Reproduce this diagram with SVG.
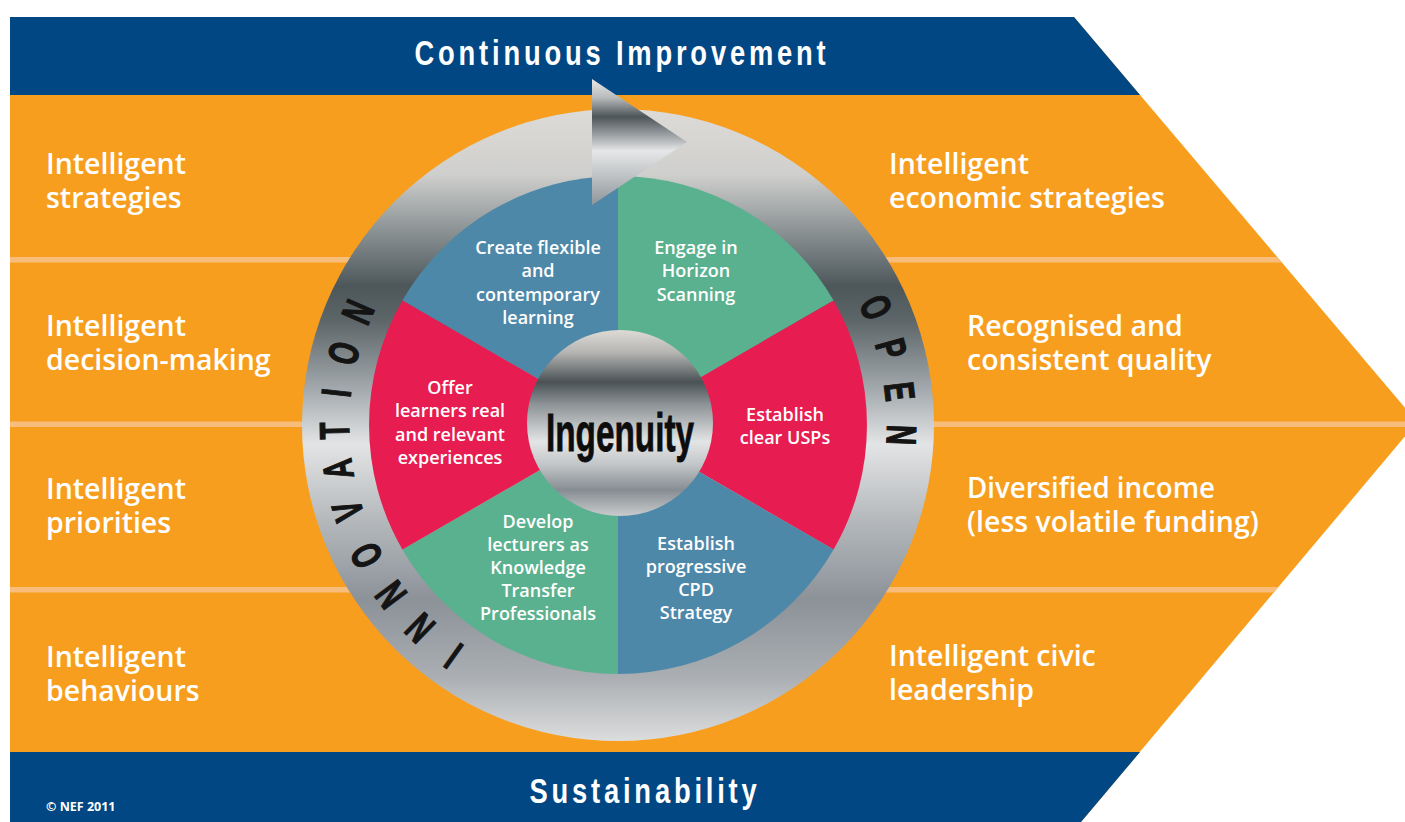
<svg xmlns="http://www.w3.org/2000/svg" width="1405" height="822" viewBox="0 0 1405 822">
  <defs>
    <style>
      .band-title { font-family: "Liberation Sans", Arial, sans-serif; font-weight: bold; font-size: 36px; fill: #ffffff; letter-spacing: 5px; }
      .side { font-family: "Open Sans", "Liberation Sans", sans-serif; font-weight: 600; font-size: 28.5px; fill: #ffffff; }
      .seg { font-family: "Open Sans", "Liberation Sans", sans-serif; font-weight: 600; font-size: 18px; fill: #ffffff; text-anchor: middle; }
      .ring-letter { font-family: "Liberation Sans", Arial, sans-serif; font-weight: bold; font-size: 42px; fill: #141414; stroke: #141414; stroke-width: 1.2px; text-anchor: middle; }
      .core { font-family: "Liberation Sans", Arial, sans-serif; font-weight: bold; font-size: 53px; fill: #0d0d0d; stroke: #0d0d0d; stroke-width: 0.8px; text-anchor: middle; }
      .copy { font-family: "Open Sans", "Liberation Sans", sans-serif; font-weight: 700; font-size: 12.5px; fill: #ffffff; }
      .stripe { fill: #f8bd7b; }
    </style>
    <clipPath id="chevronClip">
      <polygon points="10,17 1074,17 1417,422 1081,822 10,822"/>
    </clipPath>
    <!-- brushed-metal ring -->
    <linearGradient id="metalRing" gradientUnits="userSpaceOnUse" x1="0" y1="109" x2="0" y2="741">
      <stop offset="0" stop-color="#dddbd7"/>
      <stop offset="0.104" stop-color="#cfcfcd"/>
      <stop offset="0.19" stop-color="#8d9496"/>
      <stop offset="0.28" stop-color="#4d575a"/>
      <stop offset="0.334" stop-color="#5c6568"/>
      <stop offset="0.445" stop-color="#a4aaae"/>
      <stop offset="0.53" stop-color="#e3e4e5"/>
      <stop offset="0.65" stop-color="#b5b9bc"/>
      <stop offset="0.777" stop-color="#8b9298"/>
      <stop offset="0.9" stop-color="#abafb3"/>
      <stop offset="1" stop-color="#dcdddd"/>
    </linearGradient>
    <!-- metal hub -->
    <linearGradient id="metalHub" gradientUnits="userSpaceOnUse" x1="0" y1="330" x2="0" y2="516">
      <stop offset="0" stop-color="#dedbd6"/>
      <stop offset="0.12" stop-color="#b5b5b3"/>
      <stop offset="0.28" stop-color="#4a5255"/>
      <stop offset="0.4" stop-color="#8d9396"/>
      <stop offset="0.6" stop-color="#e3e4e5"/>
      <stop offset="0.72" stop-color="#c4c7c9"/>
      <stop offset="0.86" stop-color="#868d92"/>
      <stop offset="1" stop-color="#c9cbcd"/>
    </linearGradient>
    <!-- metal arrowhead -->
    <linearGradient id="metalArrow" gradientUnits="userSpaceOnUse" x1="0" y1="79" x2="0" y2="205">
      <stop offset="0" stop-color="#e8e8e8"/>
      <stop offset="0.15" stop-color="#b7b9ba"/>
      <stop offset="0.3" stop-color="#4c5558"/>
      <stop offset="0.45" stop-color="#9ea3a6"/>
      <stop offset="0.57" stop-color="#e6e7e8"/>
      <stop offset="0.75" stop-color="#c3c6c8"/>
      <stop offset="1" stop-color="#8f959a"/>
    </linearGradient>
  </defs>

  <rect width="1405" height="822" fill="#ffffff"/>

  <!-- chevron background -->
  <g id="chevron">
    <polygon points="10,17 1074,17 1417,422 1081,822 10,822" fill="#f79e1f"/>
    <g clip-path="url(#chevronClip)">
      <rect class="stripe" x="10" y="257" width="1410" height="5.5"/>
      <rect class="stripe" x="10" y="421.5" width="1410" height="5.5"/>
      <rect class="stripe" x="10" y="587" width="1410" height="5.5"/>
    </g>
  </g>

  <g id="band-top">
    <polygon points="10,17 1074,17 1140,95 10,95" fill="#004784"/>
    <text class="band-title" transform="translate(622,65) scale(0.76,1)" text-anchor="middle">Continuous Improvement</text>
  </g>

  <g id="band-bottom">
    <polygon points="10,752 1140,752 1081,822 10,822" fill="#004784"/>
    <text class="band-title" transform="translate(645,803) scale(0.76,1)" text-anchor="middle">Sustainability</text>
    <text class="copy" x="46" y="811">© NEF 2011</text>
  </g>

  <!-- left column -->
  <g id="left-strategies"><text class="side" x="46" y="174">Intelligent</text><text class="side" x="46" y="208">strategies</text></g>
  <g id="left-decision"><text class="side" x="46" y="336">Intelligent</text><text class="side" x="46" y="370">decision-making</text></g>
  <g id="left-priorities"><text class="side" x="46" y="499">Intelligent</text><text class="side" x="46" y="533">priorities</text></g>
  <g id="left-behaviours"><text class="side" x="46" y="667">Intelligent</text><text class="side" x="46" y="701">behaviours</text></g>

  <!-- right column -->
  <g id="right-economic"><text class="side" x="889" y="174">Intelligent</text><text class="side" x="889" y="208">economic strategies</text></g>
  <g id="right-quality"><text class="side" x="967" y="336">Recognised and</text><text class="side" x="967" y="370">consistent quality</text></g>
  <g id="right-income"><text class="side" x="967" y="498" textLength="248" lengthAdjust="spacingAndGlyphs">Diversified income</text><text class="side" x="967" y="532">(less volatile funding)</text></g>
  <g id="right-civic"><text class="side" x="889" y="666">Intelligent civic</text><text class="side" x="889" y="700">leadership</text></g>

  <!-- outer ring -->
  <g id="ring">
    <circle cx="618" cy="425" r="316" fill="url(#metalRing)"/>
  </g>

  <!-- six segments -->
  <g id="seg-flexible">
    <path d="M618,425 L402.4,300.5 A249,249 0 0 1 618,176 Z" fill="#4e88a9"/>
    <text class="seg" x="538" y="254">Create flexible</text>
    <text class="seg" x="538" y="277">and</text>
    <text class="seg" x="538" y="301">contemporary</text>
    <text class="seg" x="538" y="324">learning</text>
  </g>
  <g id="seg-horizon">
    <path d="M618,425 L618,176 A249,249 0 0 1 833.6,300.5 Z" fill="#5ab18f"/>
    <text class="seg" x="696" y="254">Engage in</text>
    <text class="seg" x="696" y="277">Horizon</text>
    <text class="seg" x="696" y="301">Scanning</text>
  </g>
  <g id="seg-usps">
    <path d="M618,425 L833.6,300.5 A249,249 0 0 1 833.6,549.5 Z" fill="#e71d51"/>
    <text class="seg" x="785" y="421">Establish</text>
    <text class="seg" x="785" y="444">clear USPs</text>
  </g>
  <g id="seg-cpd">
    <path d="M618,425 L833.6,549.5 A249,249 0 0 1 618,674 Z" fill="#4e88a9"/>
    <text class="seg" x="696" y="550">Establish</text>
    <text class="seg" x="696" y="573">progressive</text>
    <text class="seg" x="696" y="596">CPD</text>
    <text class="seg" x="696" y="619">Strategy</text>
  </g>
  <g id="seg-lecturers">
    <path d="M618,425 L618,674 A249,249 0 0 1 402.4,549.5 Z" fill="#5ab18f"/>
    <text class="seg" x="538" y="528">Develop</text>
    <text class="seg" x="538" y="551">lecturers as</text>
    <text class="seg" x="538" y="574">Knowledge</text>
    <text class="seg" x="538" y="597">Transfer</text>
    <text class="seg" x="538" y="620">Professionals</text>
  </g>
  <g id="seg-experiences">
    <path d="M618,425 L402.4,549.5 A249,249 0 0 1 402.4,300.5 Z" fill="#e71d51"/>
    <text class="seg" x="450" y="394">Offer</text>
    <text class="seg" x="450" y="417">learners real</text>
    <text class="seg" x="450" y="441">and relevant</text>
    <text class="seg" x="450" y="464">experiences</text>
  </g>

  <!-- hub -->
  <g id="hub">
    <circle cx="620" cy="423" r="93" fill="url(#metalHub)"/>
    <text class="core" x="620" y="451" textLength="148" lengthAdjust="spacingAndGlyphs">Ingenuity</text>
  </g>

  <!-- rotation arrowhead on the ring -->
  <g id="connectors">
    <polygon points="592,79 687,142 592,205" fill="url(#metalArrow)"/>
  </g>

  <!-- lettering around the ring -->
  <g id="ring-innovation">
    <text class="ring-letter" y="15" transform="translate(453.1,656.2) rotate(215.5) scale(0.66,1)">I</text>
    <text class="ring-letter" y="15" transform="translate(419.7,628.3) rotate(224.3) scale(0.66,1)">N</text>
    <text class="ring-letter" y="15" transform="translate(390.6,595.1) rotate(233.2) scale(0.66,1)">N</text>
    <text class="ring-letter" y="15" transform="translate(365.9,555.7) rotate(242.6) scale(0.66,1)">O</text>
    <text class="ring-letter" y="15" transform="translate(347.3,510.9) rotate(252.4) scale(0.66,1)">V</text>
    <text class="ring-letter" y="15" transform="translate(337.5,469.4) rotate(261) scale(0.66,1)">A</text>
    <text class="ring-letter" y="15" transform="translate(334.1,430.9) rotate(268.8) scale(0.66,1)">T</text>
    <text class="ring-letter" y="15" transform="translate(335.8,392.8) rotate(276.5) scale(0.66,1)">I</text>
    <text class="ring-letter" y="15" transform="translate(343.3,352.9) rotate(284.7) scale(0.66,1)">O</text>
    <text class="ring-letter" y="15" transform="translate(357.5,311.8) rotate(293.5) scale(0.66,1)">N</text>
  </g>
  <g id="ring-open">
    <text class="ring-letter" y="15" transform="translate(876.4,307.2) rotate(65.5) scale(0.66,1)">O</text>
    <text class="ring-letter" y="15" transform="translate(891.6,348.6) rotate(74.4) scale(0.66,1)">P</text>
    <text class="ring-letter" y="15" transform="translate(900,391.4) rotate(83.2) scale(0.66,1)">E</text>
    <text class="ring-letter" y="15" transform="translate(901.8,434.9) rotate(92) scale(0.66,1)">N</text>
  </g>
</svg>
